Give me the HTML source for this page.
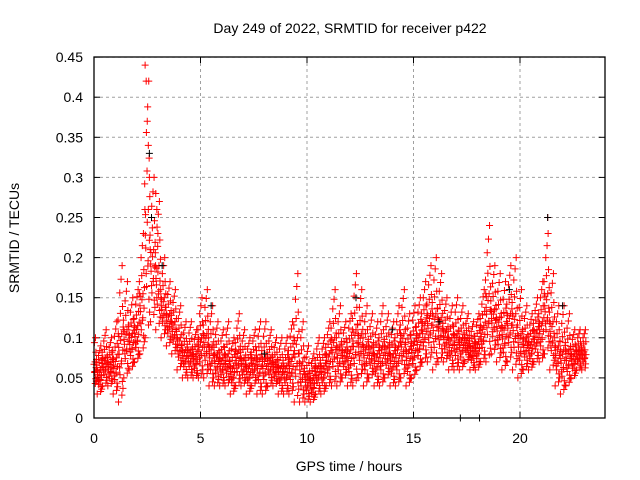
<!DOCTYPE html>
<html><head><meta charset="utf-8"><style>
body{margin:0;background:#fff}
svg{display:block;font-family:"Liberation Sans",sans-serif}
</style></head><body>
<svg id="chart" width="640" height="480">
<text x="350" y="33" font-size="14" text-anchor="middle">Day 249 of 2022, SRMTID for receiver p422</text>
<text x="349" y="471" font-size="14" text-anchor="middle">GPS time / hours</text>
<text transform="translate(19,238) rotate(-90)" font-size="14" text-anchor="middle">SRMTID / TECUs</text>
<g id="grid"></g><g id="ticks"></g><g id="marks"></g>
<rect x="94" y="57" width="511" height="361" fill="none" stroke="#000" stroke-width="1.3"/>
</svg>
<script>
const xTicks=[0,5,10,15,20];
const yTicks=[0,0.05,0.1,0.15,0.2,0.25,0.3,0.35,0.4,0.45];
const yTickLabels=["0","0.05","0.1","0.15","0.2","0.25","0.3","0.35","0.4","0.45"];
const step=0.25;
const lo=[0.04,0.03,0.04,0.04,0.03,0.02,0.05,0.06,0.07,0.08,0.10,0.12,0.11,0.10,0.09,0.08,0.06,0.05,0.05,0.05,0.05,0.05,0.04,0.04,0.04,0.04,0.03,0.04,0.04,0.03,0.04,0.03,0.03,0.04,0.04,0.03,0.03,0.03,0.02,0.02,0.02,0.02,0.03,0.03,0.04,0.04,0.04,0.05,0.04,0.04,0.05,0.04,0.05,0.04,0.04,0.05,0.04,0.04,0.05,0.04,0.05,0.06,0.07,0.07,0.06,0.07,0.07,0.06,0.06,0.06,0.07,0.06,0.06,0.07,0.07,0.08,0.07,0.06,0.07,0.06,0.05,0.06,0.06,0.07,0.07,0.08,0.06,0.04,0.03,0.04,0.05,0.06,0.06];
const hi=[0.10,0.09,0.11,0.10,0.12,0.19,0.17,0.15,0.16,0.23,0.42,0.30,0.27,0.20,0.17,0.16,0.14,0.12,0.12,0.11,0.15,0.16,0.14,0.12,0.11,0.12,0.10,0.13,0.11,0.10,0.11,0.12,0.12,0.11,0.10,0.10,0.10,0.12,0.18,0.12,0.09,0.08,0.10,0.10,0.12,0.16,0.14,0.12,0.13,0.18,0.16,0.14,0.13,0.12,0.14,0.13,0.12,0.14,0.16,0.13,0.14,0.15,0.17,0.19,0.20,0.18,0.15,0.14,0.15,0.14,0.13,0.12,0.13,0.16,0.24,0.19,0.18,0.17,0.19,0.20,0.16,0.14,0.13,0.15,0.17,0.23,0.18,0.14,0.14,0.13,0.11,0.11,0.11];
const peakTimes=[2.4,2.45,2.5,2.55,2.6,2.9,2.95,3.0,21.3];
const peakValues=[0.44,0.42,0.37,0.34,0.30,0.28,0.26,0.23,0.25];
const blackTimes=[2.6,2.7,3.2,5.5,8.0,12.3,14.0,16.2,17.2,18.1,19.5,21.3,22.0];
const blackValues=[0.33,0.25,0.19,0.14,0.08,0.15,0.11,0.12,0,0,0.16,0.25,0.14];
const X=t=>94+t*21.3, Y=v=>418-v*802;
const ns="http://www.w3.org/2000/svg";
const grid=document.getElementById('grid'),ticks=document.getElementById('ticks'),marks=document.getElementById('marks');
function line(g,x1,y1,x2,y2,attrs){const l=document.createElementNS(ns,'line');l.setAttribute('x1',x1);l.setAttribute('y1',y1);l.setAttribute('x2',x2);l.setAttribute('y2',y2);for(const k in attrs)l.setAttribute(k,attrs[k]);g.appendChild(l);return l;}
function text(g,x,y,s,anchor){const t=document.createElementNS(ns,'text');t.setAttribute('x',x);t.setAttribute('y',y);t.setAttribute('font-size','14');t.setAttribute('text-anchor',anchor);t.textContent=s;g.appendChild(t);return t;}
xTicks.forEach(v=>{const x=X(v);
 const gl=line(grid,x,57,x,418,{stroke:'#a0a0a0','stroke-dasharray':'3,3'});
 
 
 line(ticks,x,418,x,412,{stroke:'#000'});line(ticks,x,57,x,63,{stroke:'#000'});
 const t=text(ticks,x,443,String(v),'middle');
 
 });
yTicks.forEach((v,i)=>{const y=Y(v);
 const gl=line(grid,94,y,605,y,{stroke:'#a0a0a0','stroke-dasharray':'3,3'});
 
 
 line(ticks,94,y,100,y,{stroke:'#000'});line(ticks,605,y,599,y,{stroke:'#000'});
 const t=text(ticks,83,y+5,yTickLabels[i],'end');
 
 });
function cross(t,v,color,name){const x=X(t),y=Y(v);const p=document.createElementNS(ns,'path');
 p.setAttribute('d',`M${x-3.5},${y}h7M${x},${y-3.5}v7`);p.setAttribute('stroke',color);p.setAttribute('stroke-width','1');
 
 
 marks.appendChild(p);}
const fr=[0,0.5,0.2,0.7,0.35,0.9,0.1,0.6,0.45,1,0.25,0.55,0.4,0.3,0.65,0.15,0.5,0.38,0.8,0.28,0.05,0.48];
const jit=[-0.1,0.05,-0.03,0.09,-0.07,0.02,0.11,-0.12,0.0,0.07,-0.05,0.12,-0.09,0.04,-0.01,0.08,-0.11,0.1,-0.04,0.03,0.06,-0.08];
lo.forEach((l,i)=>{const h=hi[i],t=i*step;
 for(let k=0;k<fr.length;k++){const f=fr[k];
  const tt=t+jit[k]; if(tt<0||tt>23.1)continue;
  cross(tt,l+f*(h-l),'#f00','srmtid-point');}});
peakTimes.forEach((t,i)=>cross(t,peakValues[i],'#f00','srmtid-peak-point'));
blackTimes.forEach((t,i)=>cross(t,blackValues[i],'#000','secondary-point'));
</script>
</body></html>
